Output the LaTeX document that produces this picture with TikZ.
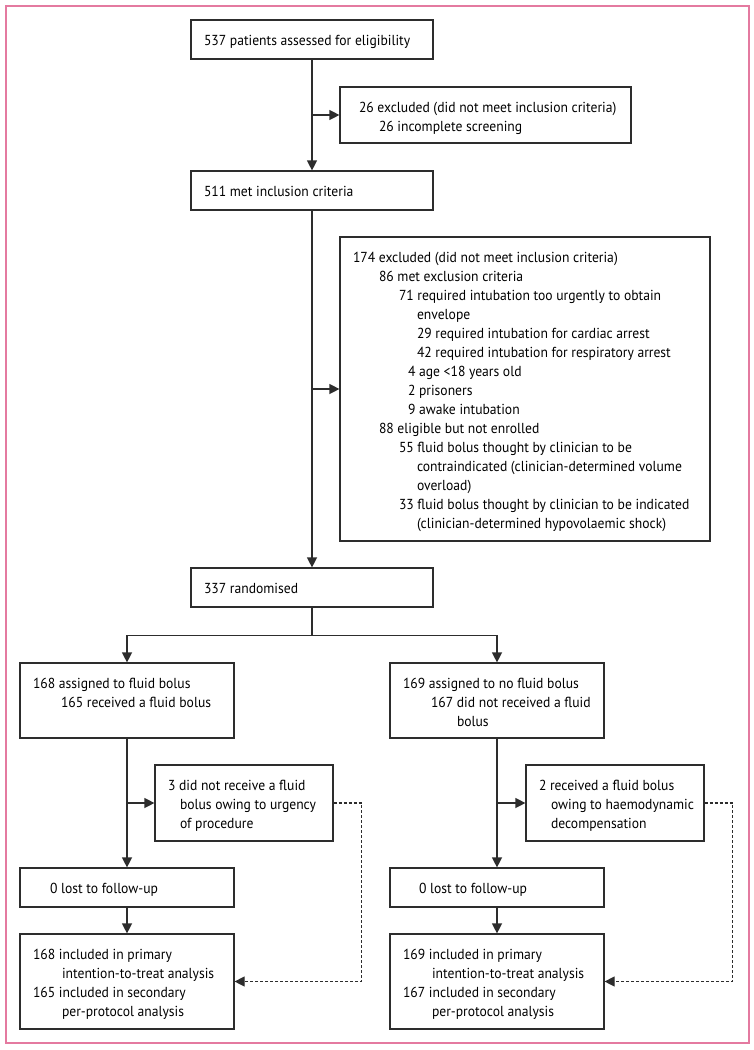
\documentclass[tikz,border=0pt]{standalone}
\usepackage{fontspec}
\setmainfont[FakeStretch=0.94]{PT Sans}
\usetikzlibrary{arrows.meta,calc}
\definecolor{framepink}{RGB}{228,122,160}
\definecolor{linegray}{RGB}{45,45,45}
\tikzstyle{line} = [draw, linegray, line width=1.3pt, -{Triangle[length=10pt,width=10pt]}]
\tikzstyle{plain} = [draw, linegray, line width=1.3pt]
\tikzstyle{dashline} = [draw, linegray, line width=1.2pt, dash pattern=on 3pt off 2pt, -{Triangle[length=10pt,width=10pt]}]
\tikzstyle{block} = [draw, linegray, line width=1.2pt, inner sep=0pt, text=black, font=\fontsize{14.5}{19}\selectfont]
\newcommand{\flowbox}[3]{\begin{minipage}[c][#2][t]{#1}\raggedright\leftskip=13pt\parindent=0pt\vspace*{12pt}\strut #3\end{minipage}}

\begin{document}
\begin{tikzpicture}[x=1pt,y=-1pt]

		\useasboundingbox (0,0) rectangle (754,1050);
		\draw [framepink, line width=1.6pt] (6,6) rectangle (749,1043);

		% screening
		\node [block] (assess) at (312,39.5) {\flowbox{242pt}{39pt}{537 patients assessed for eligibility}};
		\node [block] (exclA) at (485.5,115) {\flowbox{291pt}{56pt}{\hspace*{6pt}26 excluded (did not meet inclusion criteria)\\
			\hspace*{26pt}26 incomplete screening}};
		\node [block] (met) at (312,190.5) {\flowbox{242pt}{39pt}{511 met inclusion criteria}};
		\node [block] (exclB) at (525,389) {\flowbox{370pt}{304pt}{174 excluded (did not meet inclusion criteria)\\
			\hspace*{26pt}86 met exclusion criteria\\
			\hspace*{46pt}71 required intubation too urgently to obtain\\
			\hspace*{64pt}envelope\\
			\hspace*{64pt}29 required intubation for cardiac arrest\\
			\hspace*{64pt}42 required intubation for respiratory arrest\\
			\hspace*{55pt}4 age <18 years old\\
			\hspace*{55pt}2 prisoners\\
			\hspace*{55pt}9 awake intubation\\
			\hspace*{26pt}88 eligible but not enrolled\\
			\hspace*{46pt}55 fluid bolus thought by clinician to be\\
			\hspace*{64pt}contraindicated (clinician-determined volume\\
			\hspace*{64pt}overload)\\
			\hspace*{46pt}33 fluid bolus thought by clinician to be indicated\\
			\hspace*{64pt}(clinician-determined hypovolaemic shock)}};
		\node [block] (rand) at (312,587.5) {\flowbox{242pt}{39pt}{337 randomised}};

		% fluid bolus arm
		\node [block] (armA) at (127,700.5) {\flowbox{214pt}{75pt}{168 assigned to fluid bolus\\
			\hspace*{28pt}165 received a fluid bolus}};
		\node [block] (devA) at (244,803) {\flowbox{178pt}{76pt}{3 did not receive a fluid\\
			\hspace*{12pt}bolus owing to urgency\\
			\hspace*{12pt}of procedure}};
		\node [block] (lostA) at (127,887.5) {\flowbox{214pt}{39pt}{\hspace*{17pt}0 lost to follow-up}};
		\node [block] (finalA) at (127,981.5) {\flowbox{214pt}{95pt}{168 included in primary\\
			\hspace*{29pt}intention-to-treat analysis\\
			165 included in secondary\\
			\hspace*{29pt}per-protocol analysis}};

		% no fluid bolus arm
		\node [block] (armB) at (497,700.5) {\flowbox{214pt}{75pt}{169 assigned to no fluid bolus\\
			\hspace*{28pt}167 did not received a fluid\\
			\hspace*{54pt}bolus}};
		\node [block] (devB) at (615,803) {\flowbox{178pt}{76pt}{2 received a fluid bolus\\
			\hspace*{12pt}owing to haemodynamic\\
			\hspace*{12pt}decompensation}};
		\node [block] (lostB) at (497,887.5) {\flowbox{214pt}{39pt}{\hspace*{16pt}0 lost to follow-up}};
		\node [block] (finalB) at (497,981.5) {\flowbox{214pt}{95pt}{169 included in primary\\
			\hspace*{29pt}intention-to-treat analysis\\
			167 included in secondary\\
			\hspace*{29pt}per-protocol analysis}};

		% connectors
		\draw [line] (assess) -- (met);
		\draw [line] (assess.south |- exclA.west) -- (exclA.west);
		\draw [line] (met) -- (rand);
		\draw [line] (met.south |- exclB.west) -- (exclB.west);
		\draw [plain] (rand.south) -- ++(0,28) coordinate (split);
		\draw [line] (split) -| (armA.north);
		\draw [line] (split) -| (armB.north);

		\draw [line] (armA) -- (lostA);
		\draw [line] (armA.south |- devA.west) -- (devA.west);
		\draw [line] (lostA) -- (finalA);
		\draw [dashline] (devA.east) -- ++(28,0) |- (finalA.east);

		\draw [line] (armB) -- (lostB);
		\draw [line] (armB.south |- devB.west) -- (devB.west);
		\draw [line] (lostB) -- (finalB);
		\draw [dashline] (devB.east) -- ++(28,0) |- (finalB.east);

\end{tikzpicture}
\end{document}
